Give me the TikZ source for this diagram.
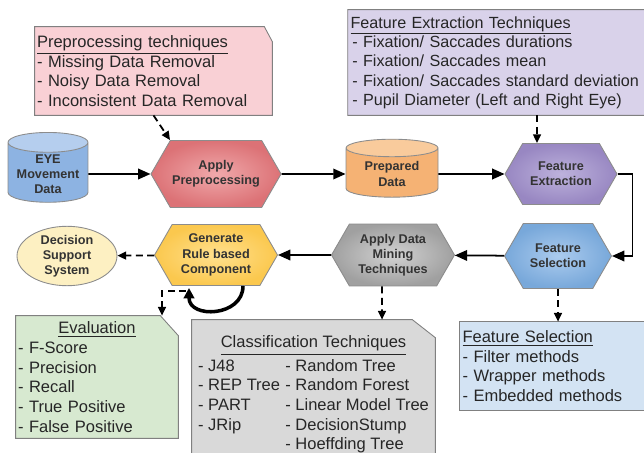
\documentclass[tikz,border=0pt]{standalone}
\usepackage{fontspec}
\setmainfont{Liberation Sans}
\usetikzlibrary{shapes.geometric,shapes.symbols,arrows.meta,calc,backgrounds}

% fills of the boxes
\definecolor{eyebody}{HTML}{8DB3E2}
\definecolor{eyetop}{HTML}{B5CEEE}
\definecolor{prepin}{HTML}{F0A9AB}
\definecolor{prepout}{HTML}{DC7276}
\definecolor{databody}{HTML}{F5B274}
\definecolor{datatop}{HTML}{F9CB9C}
\definecolor{fextin}{HTML}{BDB2DC}
\definecolor{fextout}{HTML}{9887C2}
\definecolor{fselin}{HTML}{ABCBEE}
\definecolor{fselout}{HTML}{78A8DA}
\definecolor{minein}{HTML}{D2D2D2}
\definecolor{mineout}{HTML}{A0A0A0}
\definecolor{rulein}{HTML}{FFE08E}
\definecolor{ruleout}{HTML}{FBC84E}
\definecolor{dssfill}{HTML}{FDF0C2}
\definecolor{prepnotefill}{HTML}{F9D0D5}
\definecolor{fenotefill}{HTML}{D9D2EA}
\definecolor{evalnotefill}{HTML}{D7E9D0}
\definecolor{clsnotefill}{HTML}{D9D9D9}
\definecolor{fsnotefill}{HTML}{D3E3F3}

\tikzset{
  % hexagon steps of the process
  process/.style={
    signal, signal to=west and east, signal pointer angle=120,
    draw=black!45, line width=0.5pt, inner sep=1pt,
    font=\fontsize{7.2}{8.6}\selectfont\bfseries, text=black!80, align=center
  },
  % data stores
  datastore/.style={
    cylinder, shape border rotate=90, aspect=0.3,
    cylinder uses custom fill, draw=black!45, line width=0.5pt, inner sep=1pt,
    font=\fontsize{7.2}{8.6}\selectfont\bfseries, text=black!80, align=center
  },
  % text boxes, their frame is drawn on the background layer
  note/.style={
    rectangle, inner xsep=0.04cm, inner ysep=0pt,
    font=\fontsize{9.4}{11.2}\selectfont, text=black!85, align=left
  },
  frame/.style={draw=black!50, line width=0.5pt},
  flow/.style={line width=1pt, -{Triangle[length=7pt,width=6pt]}},
  note link/.style={line width=1pt, dash pattern=on 4pt off 2.5pt,
    -{Triangle[length=5pt,width=4.5pt]}}
}

\begin{document}
\begin{tikzpicture}[x=0.02cm,y=-0.02cm]
\useasboundingbox (0,0) rectangle (644,452);
\clip (0,0) rectangle (644,452);

% upper row
\node[datastore, minimum width=1.6cm, minimum height=1.26cm,
  cylinder body fill=eyebody, cylinder end fill=eyetop] (eye) at (48,174) {EYE\\Movement\\Data};
\node[process, minimum width=2.54cm, minimum height=1.34cm,
  inner color=prepin, outer color=prepout] (prep) at (216,174) {Apply\\Preprocessing};
\node[datastore, minimum width=1.84cm, minimum height=1.16cm,
  cylinder body fill=databody, cylinder end fill=datatop] (prepared) at (392,174) {Prepared\\Data};
\node[process, minimum width=2.24cm, minimum height=1.22cm,
  inner color=fextin, outer color=fextout] (fext) at (561,174) {Feature\\Extraction};

% lower row
\node[process, minimum width=2.14cm, minimum height=1.3cm,
  inner color=fselin, outer color=fselout] (fsel) at (558,256) {Feature\\Selection};
\node[process, minimum width=2.46cm, minimum height=1.24cm,
  inner color=minein, outer color=mineout] (dm) at (393,255) {Apply Data\\Mining\\Techniques};
\node[process, minimum width=2.46cm, minimum height=1.22cm,
  inner color=rulein, outer color=ruleout] (rule) at (216,255) {Generate\\Rule based\\Component};
\node[ellipse, draw=black!45, line width=0.5pt, fill=dssfill, inner sep=0pt,
  minimum width=2cm, minimum height=1.16cm, align=center, text=black!80,
  font=\fontsize{7.2}{8.6}\selectfont\bfseries] (dss) at (67,256) {Decision\\Support\\System};

% notes
\node[note, minimum width=4.74cm, minimum height=1.76cm, text width=4.66cm]
  (prepnote) at (153.5,71) {\underline{Preprocessing techniques}\\- Missing Data Removal\\- Noisy Data Removal\\- Inconsistent Data Removal};
\node[note, minimum width=6.4cm, minimum height=2.1cm, text width=6.3cm,
  font=\fontsize{9.2}{11}\selectfont]
  (fenote) at (508,62.5) {\underline{Feature Extraction Techniques}\\
  \hspace{1pt}- Fixation/ Saccades durations\\\hspace{1pt}- Fixation/ Saccades mean\\
  \hspace{1pt}- Fixation/ Saccades standard deviation\\\hspace{1pt}- Pupil Diameter (Left and Right Eye)};
\node[note, minimum width=3.24cm, minimum height=2.44cm, text width=3.16cm]
  (evalnote) at (97,377) {\hfill\underline{Evaluation}\hfill\null\\- F-Score\\- Precision\\- Recall\\- True Positive\\- False Positive};
\node[note, minimum width=4.86cm, minimum height=3cm]
  (clsnote) at (313.5,395) {\begin{tabular}{@{}l@{\hspace{3pt}}l@{}}
    \multicolumn{2}{c}{\underline{Classification Techniques}}\\[2pt]
    - J48 & - Random Tree\\
    - REP Tree & - Random Forest\\
    - PART & - Linear Model Tree\\
    - JRip & - DecisionStump\\
     & - Hoeffding Tree
  \end{tabular}};
\node[note, minimum width=4cm, minimum height=1.76cm, text width=3.9cm]
  (fsnote) at (560,366) {\underline{Feature Selection}\\- Filter methods\\- Wrapper methods\\- Embedded methods};

% frames of the notes, cut at the upper right corner
\begin{scope}[on background layer]
  \foreach \n/\c/\dx/\dy in {prepnote/prepnotefill/8/15, fenote/fenotefill/14/14,
      evalnote/evalnotefill/18/20, clsnote/clsnotefill/23/18}
    \filldraw[frame, fill=\c] (\n.south west) -- (\n.north west)
      -- ($(\n.north east)+(-\dx,0)$) -- ($(\n.north east)+(0,\dy)$)
      -- (\n.south east) -- cycle;
  \filldraw[frame, fill=fsnotefill] (fsnote.south west) rectangle (fsnote.north east);
\end{scope}

% main flow
\draw[flow] (eye) -- (prep);
\draw[flow] (prep) -- (prepared);
\draw[flow] (prepared) -- (fext);
\draw[flow] (fext.east) -- ++(15,0) |- (fsel.east);
\draw[flow] (fsel) -- (dm);
\draw[flow] (dm) -- (rule);
\draw[note link] (rule) -- (dss);

% loop under the rule component
\draw[line width=2pt, -{Triangle[length=6pt,width=6pt]}]
  ($(rule.south)+(27,0)$) .. controls +(0,31) and +(0,31) .. ($(rule.south)+(-27,2)$);

% dashed links to the notes
\draw[note link] (prepnote.south) -- ($(prep.north)+(-46,0)$);
\draw[note link] ($(fenote.south)+(29,0)$) -- ($(fext.north)+(-24,0)$);
\draw[note link] ($(dm.south)+(-11,0)$) -- ($(clsnote.north)+(68.5,0)$);
\draw[note link] (fsel.south) -- (fsel.south |- fsnote.north);
\draw[note link] ($(rule.south)+(-30,5)$) -| ($(evalnote.north)+(65,0)$);
\end{tikzpicture}
\end{document}
